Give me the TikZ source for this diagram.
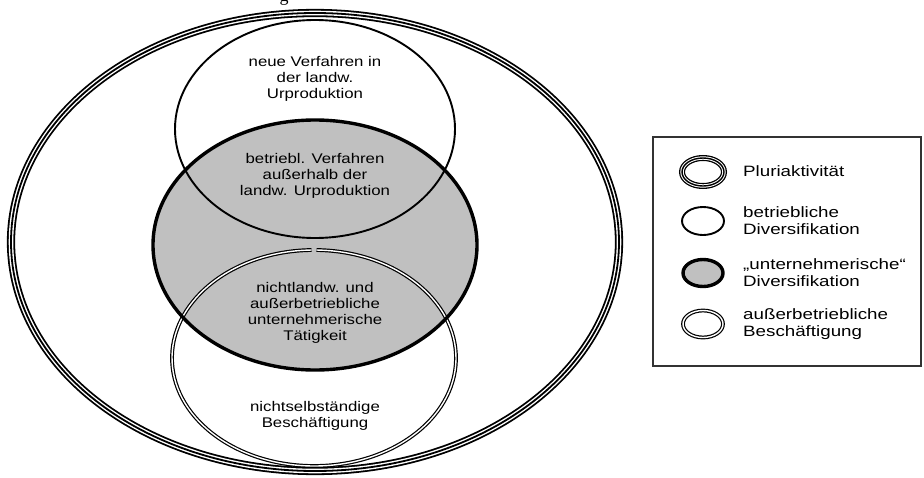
\documentclass[tikz,border=0pt]{standalone}
\usepackage{fontspec}
\setmainfont[FakeStretch=1.2]{Liberation Sans}
\newfontfamily\legfont[FakeStretch=1.25]{Liberation Sans}
\newfontfamily\titlefont{Liberation Serif}
\definecolor{fillgray}{RGB}{192,192,192}
\begin{document}
\begin{tikzpicture}[x=1pt,y=-1pt,
  triA/.style={draw=black,line width=8.2pt},
  triB/.style={draw=white,line width=4.6pt},
  triC/.style={draw=black,line width=1.8pt},
  ltriA/.style={draw=black,line width=6pt},
  ltriB/.style={draw=white,line width=3.4pt},
  ltriC/.style={draw=black,line width=1.4pt},
  thinell/.style={draw=black,line width=1.9pt},
  grayfill/.style={fill=fillgray},
  thickell/.style={draw=black,line width=3.4pt},
  dblell/.style={draw=black,double=white,double distance=1.4pt,line width=1.2pt},
  lbl/.style={font=\fontsize{14}{16}\selectfont,align=center,inner sep=0pt},
  legtxt/.style={font=\legfont\fontsize{15}{17}\selectfont,align=left,anchor=west,inner sep=0pt}]
\fill[white] (0,0) rectangle (924,477);
\useasboundingbox (0,0) rectangle (924,477);
% fragment of the title above
\node[font=\titlefont\fontsize{18}{20}\selectfont,anchor=base,inner sep=0pt] (title) at (284,1) {g};
% outer triple ellipse (Pluriaktivitaet)
\draw[triA] (315,242) ellipse[x radius=304,y radius=229];
\draw[triB] (315,242) ellipse[x radius=304,y radius=229];
\draw[triC] (315,242) ellipse[x radius=304,y radius=229];
% grey fill
\fill[grayfill] (315,245) ellipse[x radius=162,y radius=125];
% top ellipse
\draw[thinell] (315,129) ellipse[x radius=140,y radius=109];
% bottom double ellipse
\draw[dblell] (314,358) ++(-89:142 and 108) arc[start angle=-89,end angle=269,x radius=142,y radius=108];
% grey boundary
\draw[thickell] (315,245) ellipse[x radius=162,y radius=125];
% texts
\node[lbl] (t1) at (315,79) {neue Verfahren in\\der landw.\\Urproduktion};
\node[lbl] (t2) at (315,176) {betriebl. Verfahren\\außerhalb der\\landw. Urproduktion};
\node[lbl] (t3) at (315,313) {nichtlandw. und\\außerbetriebliche\\unternehmerische\\Tätigkeit};
\node[lbl] (t4) at (315,416) {nichtselbständige\\Beschäftigung};
% legend
\draw[draw=black!80,line width=1.1pt] (653,137) rectangle (921,366);
\draw[ltriA] (703,172) ellipse[x radius=21,y radius=14];
\draw[ltriB] (703,172) ellipse[x radius=21,y radius=14];
\draw[ltriC] (703,172) ellipse[x radius=21,y radius=14];
\draw[thinell] (703,221) ellipse[x radius=21,y radius=14];
\draw[thickell,grayfill] (703,273) ellipse[x radius=20,y radius=13.5];
\draw[dblell] (703,324) ellipse[x radius=20,y radius=13.5];
\node[legtxt] (l1) at (743,171) {Pluriaktivität};
\node[legtxt] (l2) at (743,221) {betriebliche\\Diversifikation};
\node[legtxt] (l3) at (743,273) {„unternehmerische“\\Diversifikation};
\node[legtxt] (l4) at (743,324) {außerbetriebliche\\Beschäftigung};
\end{tikzpicture}
\end{document}
